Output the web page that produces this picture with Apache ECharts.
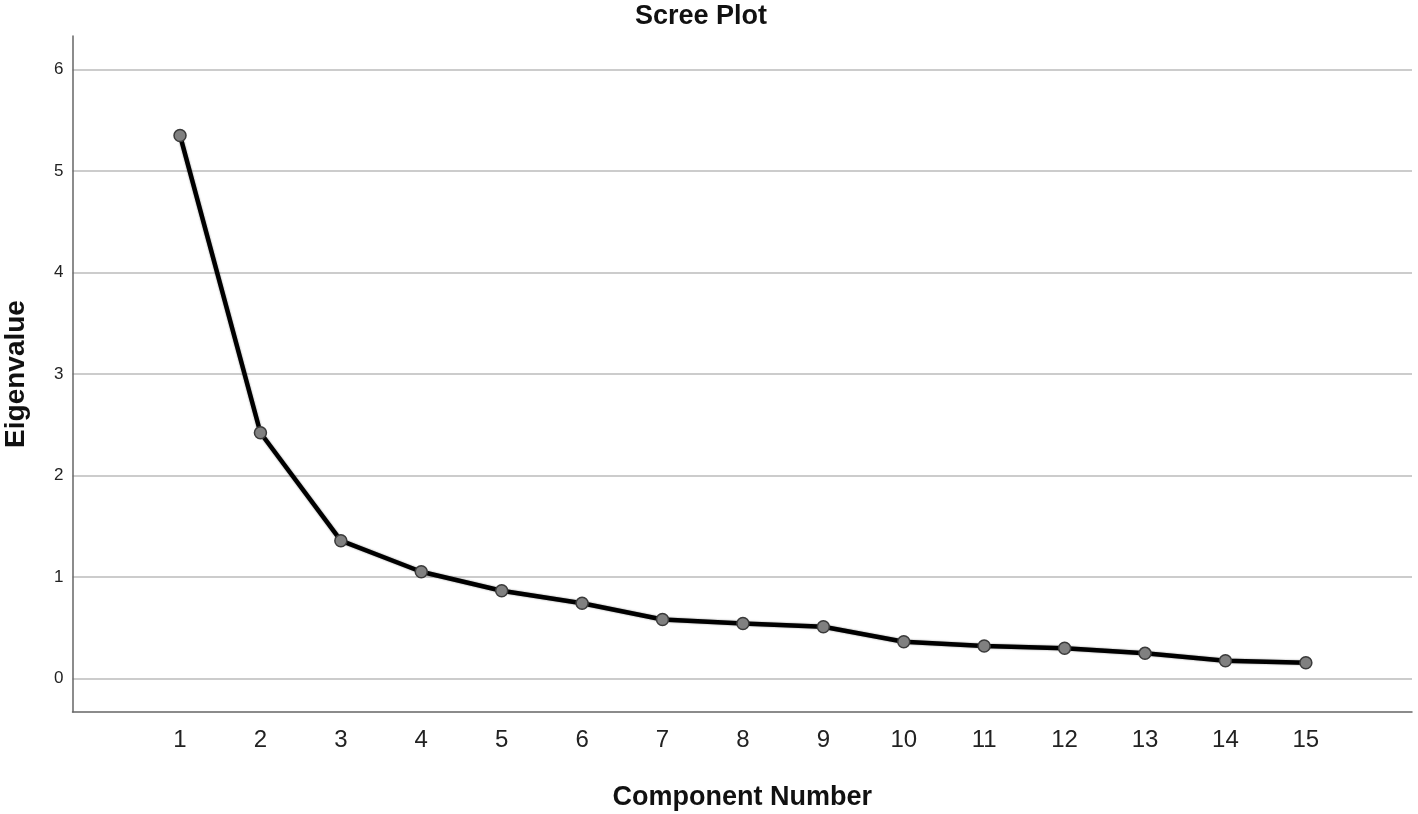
<!DOCTYPE html>
<html>
<head>
<meta charset="utf-8">
<script src="https://cdn.jsdelivr.net/npm/echarts@6/dist/echarts.min.js"></script>
<style>
html,body{margin:0;padding:0;background:#fff;}
#chart{width:1418px;height:814px;}
</style>
</head>
<body>
<div id="chart"></div>
<script>
const components = [1,2,3,4,5,6,7,8,9,10,11,12,13,14,15];
const eigenvalues = [5.35,2.42,1.356,1.05,0.863,0.739,0.58,0.541,0.508,0.36,0.318,0.296,0.246,0.173,0.154];
const yTicks = [0,1,2,3,4,5,6];
const xTicks = components;

const FONT = 'Liberation Sans, Arial, sans-serif';
const chart = echarts.init(document.getElementById('chart'), null, {renderer:'canvas'});
const data = components.map((c,i)=>[c, eigenvalues[i]]);
chart.setOption({
  animation:false,
  backgroundColor:'#fff',
  title:{
    text:'Scree Plot',
    left:696, top:-2, textAlign:'center',
    textStyle:{fontFamily:FONT, fontSize:27, fontWeight:'bold', color:'#111'}
  },
  grid:{left:72.5, right:6, top:36, bottom:102, containLabel:false, outerBoundsMode:'none'},
  xAxis:{
    type:'value', min:-0.337, max:16.32,
    name:'Component Number', nameLocation:'middle', nameGap:72,
    nameTextStyle:{fontFamily:FONT, fontSize:27, fontWeight:'bold', color:'#111'},
    axisLine:{show:true, onZero:false, lineStyle:{color:'#666', width:1.5}},
    axisTick:{show:false, customValues:xTicks},
    axisLabel:{customValues:xTicks, fontFamily:FONT, fontSize:24, color:'#222', margin:16},
    splitLine:{show:false}
  },
  yAxis:{
    type:'value', min:-0.332, max:6.33,
    name:'Eigenvalue', nameLocation:'middle', nameGap:42,
    nameTextStyle:{fontFamily:FONT, fontSize:28, fontWeight:'bold', color:'#111'},
    axisLine:{show:true, onZero:false, lineStyle:{color:'#666', width:1.5}},
    axisTick:{show:false, customValues:yTicks},
    axisLabel:{customValues:yTicks, fontFamily:FONT, fontSize:17, color:'#222', margin:9},
    splitLine:{show:true, lineStyle:{color:'#cccccc', width:2}}
  },
  series:[{
    type:'line', data:data,
    symbol:'circle', symbolSize:12,
    lineStyle:{color:'#000', width:4.5, shadowColor:'rgba(0,0,0,0.45)', shadowBlur:2},
    itemStyle:{color:'#808080', borderColor:'#3a3a3a', borderWidth:1.5}
  }]
});
</script>
</body>
</html>
